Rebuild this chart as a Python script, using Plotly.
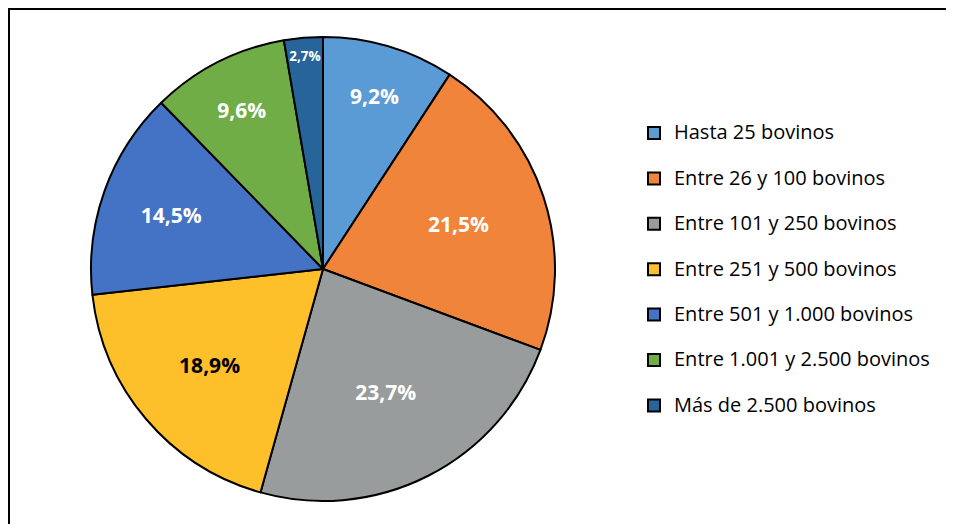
import plotly.graph_objects as go

categories = [
    "Hasta 25 bovinos",
    "Entre 26 y 100 bovinos",
    "Entre 101 y 250 bovinos",
    "Entre 251 y 500 bovinos",
    "Entre 501 y 1.000 bovinos",
    "Entre 1.001 y 2.500 bovinos",
    "Más de 2.500 bovinos",
]
values = [9.2, 21.5, 23.7, 18.9, 14.5, 9.6, 2.7]
colors = ["#5B9BD5", "#F0843A", "#999C9C", "#FDBF2A", "#4472C4", "#70AD47", "#26649A"]
text_colors = ["white", "white", "white", "black", "white", "white", "white"]

W, H = 954, 524
cx, cy, r = 315, 261, 232
FONT = "Open Sans, Lato, sans-serif"

legend_labels = ["<span style='font-size:20px'>" + c + "</span><br> " for c in categories]

fig = go.Figure(go.Pie(
    labels=legend_labels,
    values=values,
    sort=False,
    direction="clockwise",
    rotation=0,
    marker=dict(colors=colors, line=dict(color="black", width=2)),
    texttemplate="<b>%{value:.1f}%</b>",
    textposition="inside",
    insidetextorientation="horizontal",
    insidetextfont=dict(family=FONT, size=21, color=text_colors),
    hoverinfo="value",
    domain=dict(x=[(cx - r) / W, (cx + r) / W], y=[1 - (cy + r) / H, 1 - (cy - r) / H]),
))

fig.update_layout(
    width=W, height=H,
    margin=dict(l=0, r=0, t=0, b=0),
    paper_bgcolor="white",
    separators=",.",
    showlegend=True,
    legend=dict(
        x=626 / W, y=1 - 108 / H, xanchor="left", yanchor="top",
        font=dict(family=FONT, size=16.3, color="black"),
        valign="top",
        itemwidth=30,
        bgcolor="rgba(0,0,0,0)",
    ),
    shapes=[
        dict(type="line", xref="paper", yref="paper", x0=0, x1=1, y0=1 - 1 / H, y1=1 - 1 / H,
             line=dict(color="black", width=2)),
        dict(type="line", xref="paper", yref="paper", x0=1 / W, x1=1 / W, y0=0, y1=1,
             line=dict(color="black", width=2)),
    ],
)

fig.write_html("out.html")
